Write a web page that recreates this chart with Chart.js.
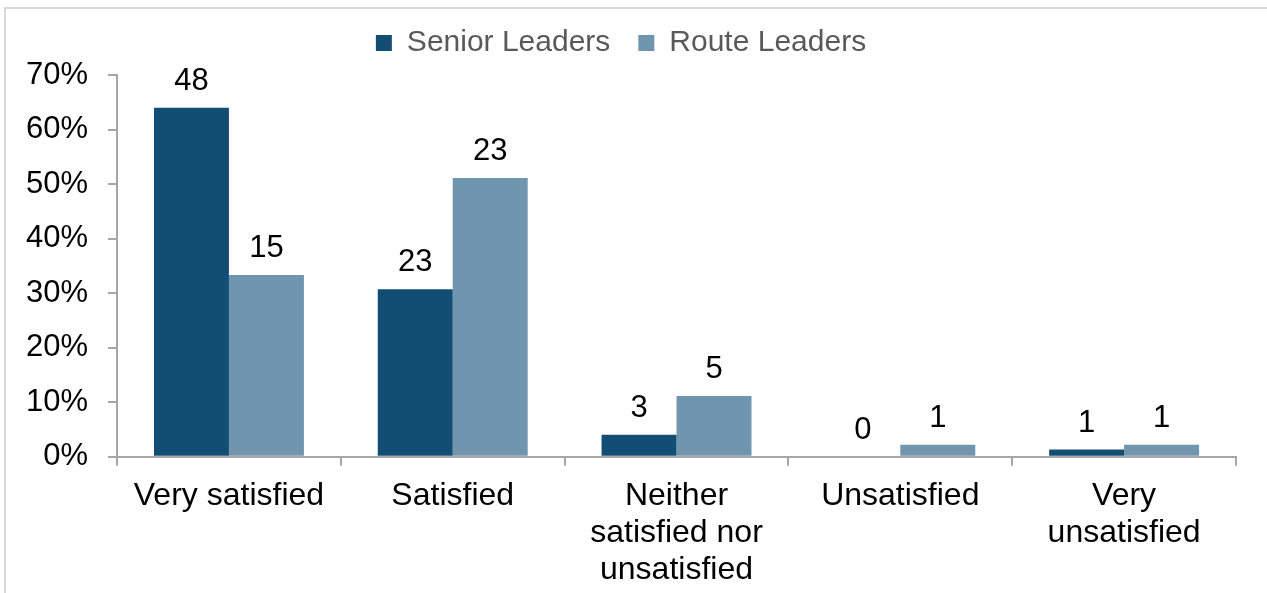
<!DOCTYPE html>
<html>
<head>
<meta charset="utf-8">
<script src="https://cdn.jsdelivr.net/npm/chart.js@4"></script>
<style>
  html, body { margin: 0; padding: 0; background: #fff; overflow: hidden; }
  #frame {
    position: absolute; left: 4px; top: 7px; width: 1280px; height: 620px;
    border: 2px solid #d9d9d9;
  }
  #wrap { position: absolute; left: 0; top: 0; width: 1267px; height: 605px; }
</style>
</head>
<body>
<div id="frame"></div>
<div id="wrap"><canvas id="surveyChart"></canvas></div>
<script>
// categories and values
const categories = [
  "Very satisfied",
  "Satisfied",
  ["Neither", "satisfied nor", "unsatisfied"],
  "Unsatisfied",
  ["Very", "unsatisfied"],
];
const seniorPct = [64, 30.7, 4, 0, 1.3];
const routePct = [33.3, 51.1, 11.1, 2.2, 2.2];
const seniorCount = [48, 23, 3, 0, 1];
const routeCount = [15, 23, 5, 1, 1];
const yTicks = [0, 10, 20, 30, 40, 50, 60, 70];

const FONT = "Liberation Sans, Arial, sans-serif";

// count labels above the bars
const countLabels = {
  id: "countLabels",
  afterDatasetsDraw(chart) {
    const ctx = chart.ctx;
    const counts = [seniorCount, routeCount];
    ctx.save();
    ctx.font = "31px " + FONT;
    ctx.fillStyle = "#000";
    ctx.textAlign = "center";
    ctx.textBaseline = "bottom";
    chart.data.datasets.forEach((ds, i) => {
      chart.getDatasetMeta(i).data.forEach((bar, j) => {
        ctx.fillText(String(counts[i][j]), bar.x, bar.y - 11);
      });
    });
    ctx.restore();
  },
};

// a bit more room under the legend
const legendGap = {
  id: "legendGap",
  beforeInit(chart) {
    const fit = chart.legend.fit;
    chart.legend.fit = function () {
      fit.bind(chart.legend)();
      this.height += 7;
    };
  },
};

new Chart(document.getElementById("surveyChart"), {
  type: "bar",
  data: {
    labels: categories,
    datasets: [
      {
        label: "Senior Leaders",
        data: seniorPct,
        backgroundColor: "#124E73",
        categoryPercentage: 0.67,
        barPercentage: 1,
      },
      {
        label: "Route Leaders",
        data: routePct,
        backgroundColor: "#7095AF",
        categoryPercentage: 0.67,
        barPercentage: 1,
      },
    ],
  },
  options: {
    responsive: true,
    maintainAspectRatio: false,
    animation: false,
    layout: { padding: { left: 6, right: 31, top: 0, bottom: 4 } },
    plugins: {
      legend: {
        display: true,
        position: "top",
        labels: {
          color: "#595959",
          font: { family: FONT, size: 30 },
          boxWidth: 16,
          boxHeight: 16,
          padding: 28,
        },
      },
      tooltip: { enabled: false },
    },
    scales: {
      x: {
        grid: {
          offset: true,
          drawOnChartArea: false,
          drawTicks: true,
          tickLength: 9,
          color: "#a6a6a6",
          lineWidth: 2,
        },
        border: { color: "#a6a6a6", width: 2 },
        ticks: {
          color: "#000",
          font: { family: FONT, size: 32, lineHeight: 1.16 },
          padding: 12,
          maxRotation: 0,
          autoSkip: false,
        },
      },
      y: {
        min: yTicks[0],
        max: yTicks[yTicks.length - 1],
        afterBuildTicks: (axis) => {
          axis.ticks = yTicks.map((v) => ({ value: v }));
        },
        grid: {
          drawOnChartArea: false,
          drawTicks: true,
          tickLength: 9,
          color: "#a6a6a6",
          lineWidth: 2,
        },
        border: { color: "#a6a6a6", width: 2 },
        ticks: {
          color: "#000",
          font: { family: FONT, size: 31 },
          padding: 20,
          callback: (v) => v + "%",
        },
      },
    },
  },
  plugins: [countLabels, legendGap],
});
</script>
</body>
</html>
